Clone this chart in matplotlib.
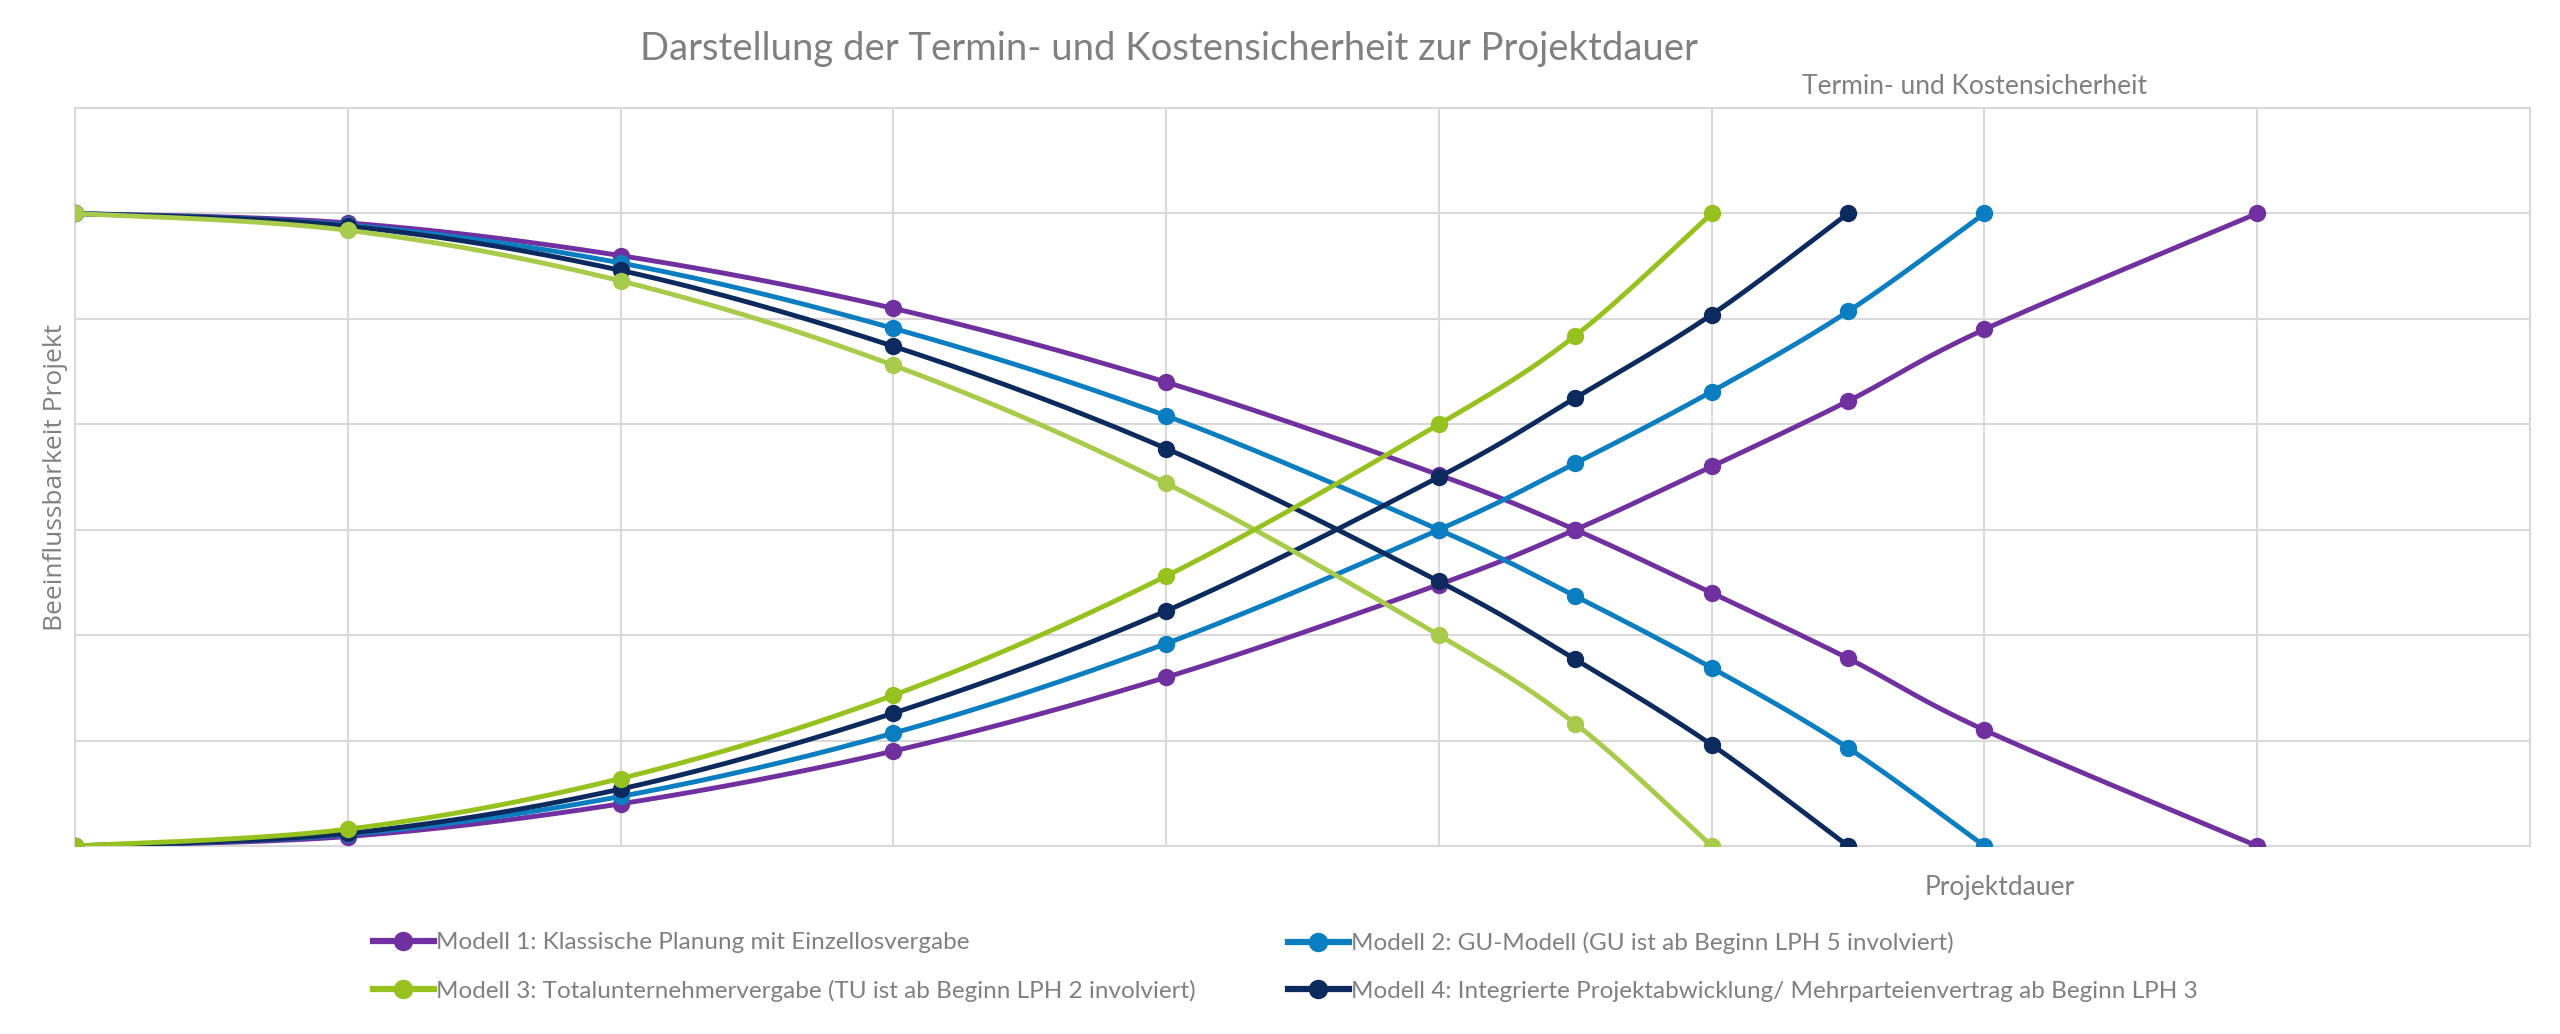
import numpy as np
import matplotlib
matplotlib.use('Agg')
import matplotlib.pyplot as plt
from matplotlib.lines import Line2D

plt.rcParams['font.family'] = ['Lato', 'DejaVu Sans']

TEXT_GREY = '#808080'
GRID_GREY = '#d9d9d9'

# Projektdauer (x) und Beeinflussbarkeit / Sicherheit (y)
x_m1 = [0, 1, 2, 3, 4, 5, 5.5, 6, 6.5, 7, 8]
m1_fall = [6.0, 5.91, 5.6, 5.1, 4.4, 3.52, 3.0, 2.4, 1.78, 1.1, 0.0]
m1_rise = [0.0, 0.09, 0.4, 0.9, 1.6, 2.48, 3.0, 3.6, 4.22, 4.9, 6.0]

x_m2 = [0, 1, 2, 3, 4, 5, 5.5, 6, 6.5, 7]
m2_fall = [6.0, 5.89, 5.53, 4.91, 4.08, 3.0, 2.37, 1.69, 0.93, 0.0]
m2_rise = [0.0, 0.11, 0.47, 1.07, 1.92, 3.0, 3.63, 4.31, 5.07, 6.0]

x_m3 = [0, 1, 2, 3, 4, 5, 5.5, 6]
m3_fall = [6.0, 5.84, 5.36, 4.56, 3.44, 2.0, 1.16, 0.0]
m3_rise = [0.0, 0.16, 0.64, 1.43, 2.56, 4.0, 4.84, 6.0]

x_m4 = [0, 1, 2, 3, 4, 5, 5.5, 6, 6.5]
m4_fall = [6.0, 5.88, 5.46, 4.74, 3.77, 2.51, 1.77, 0.96, 0.0]
m4_rise = [0.0, 0.12, 0.54, 1.26, 2.23, 3.5, 4.25, 5.04, 6.0]

labels = [
    'Modell 1: Klassische Planung mit Einzellosvergabe',
    'Modell 2: GU-Modell (GU ist ab Beginn LPH 5 involviert)',
    'Modell 3: Totalunternehmervergabe (TU ist ab Beginn LPH 2 involviert)',
    'Modell 4: Integrierte Projektabwicklung/ Mehrparteienvertrag ab Beginn LPH 3',
]
colors = ['#7030a0', '#0b7dc1', '#96c11f', '#0d2a5e']
fall_colors = ['#7030a0', '#0b7dc1', '#a8cb4c', '#0d2a5e']


def smooth(x, y, n=30):
    # Bezier-Glaettung wie bei Excel-Liniendiagrammen
    p = np.column_stack([x, y]).astype(float)
    p = np.vstack([p[0], p, p[-1]])
    out = []
    t = np.linspace(0, 1, n)[:, None]
    for i in range(1, len(p) - 2):
        p0, p1, p2, p3 = p[i - 1], p[i], p[i + 1], p[i + 2]
        c1 = p1 + (p2 - p0) / 6.
        c2 = p2 - (p3 - p1) / 6.
        seg = ((1 - t) ** 3 * p1 + 3 * (1 - t) ** 2 * t * c1
               + 3 * (1 - t) * t ** 2 * c2 + t ** 3 * p2)
        out.append(seg if i == 1 else seg[1:])
    out = np.vstack(out)
    return out[:, 0], out[:, 1]


fig = plt.figure(figsize=(25.6, 10.34), dpi=100)
ax = fig.add_axes([75 / 2560, 1 - 846 / 1034, (2530 - 75) / 2560, (846 - 108) / 1034])

series = [
    (x_m1, m1_fall, m1_rise),
    (x_m2, m2_fall, m2_rise),
    (x_m4, m4_fall, m4_rise),
    (x_m3, m3_fall, m3_rise),
]
order = [0, 1, 3, 2]
for k, (xs, yf, yr) in zip(order, series):
    z = 3 + order.index(k)
    for ys, col in ((yf, fall_colors[k]), (yr, colors[k])):
        sx, sy = smooth(xs, ys)
        ax.plot(sx, sy, color=col, lw=3.5, solid_capstyle='round', zorder=z)
        ax.plot(xs, ys, ls='none', marker='o', ms=12.5, color=col,
                markeredgewidth=0, zorder=z)

ax.set_xlim(0, 9)
ax.set_ylim(0, 7)
ax.set_xticks(np.arange(0, 10, 1))
ax.set_yticks(np.arange(0, 8, 1))
ax.grid(True, color=GRID_GREY, lw=1.5, zorder=0)
ax.tick_params(left=False, bottom=False, labelleft=False, labelbottom=False)
for s in ax.spines.values():
    s.set_color(GRID_GREY)
    s.set_linewidth(1.5)
ax.set_axisbelow(True)

fig.text(1169 / 2560, 1 - 49 / 1034,
         'Darstellung der Termin- und Kostensicherheit zur Projektdauer',
         ha='center', va='center', fontsize=27.5, color=TEXT_GREY)
fig.text(1975 / 2560, 1 - 87 / 1034, 'Termin- und Kostensicherheit',
         ha='center', va='center', fontsize=19, color=TEXT_GREY)
fig.text(2000 / 2560, 1 - 887 / 1034, 'Projektdauer',
         ha='center', va='center', fontsize=19, color=TEXT_GREY)
fig.text(55 / 2560, 1 - 477 / 1034, 'Beeinflussbarkeit Projekt',
         ha='center', va='center', rotation=90, fontsize=19,
         color=TEXT_GREY, family=['Open Sans', 'DejaVu Sans'])

handles = [Line2D([], [], color=c, lw=4.5, marker='o', ms=13) for c in colors]
for idx, xpos in (([0, 2], 373), ([1, 3], 1288)):
    leg = fig.legend([handles[i] for i in idx], [labels[i] for i in idx],
                     loc='upper left', bbox_to_anchor=(xpos / 2560, 1 - 932 / 1034),
                     frameon=False, fontsize=17.5, handlelength=2.5,
                     handletextpad=0.1, borderaxespad=0, borderpad=0,
                     labelspacing=1.1, labelcolor=TEXT_GREY)

fig.savefig('out.png', dpi=100)
